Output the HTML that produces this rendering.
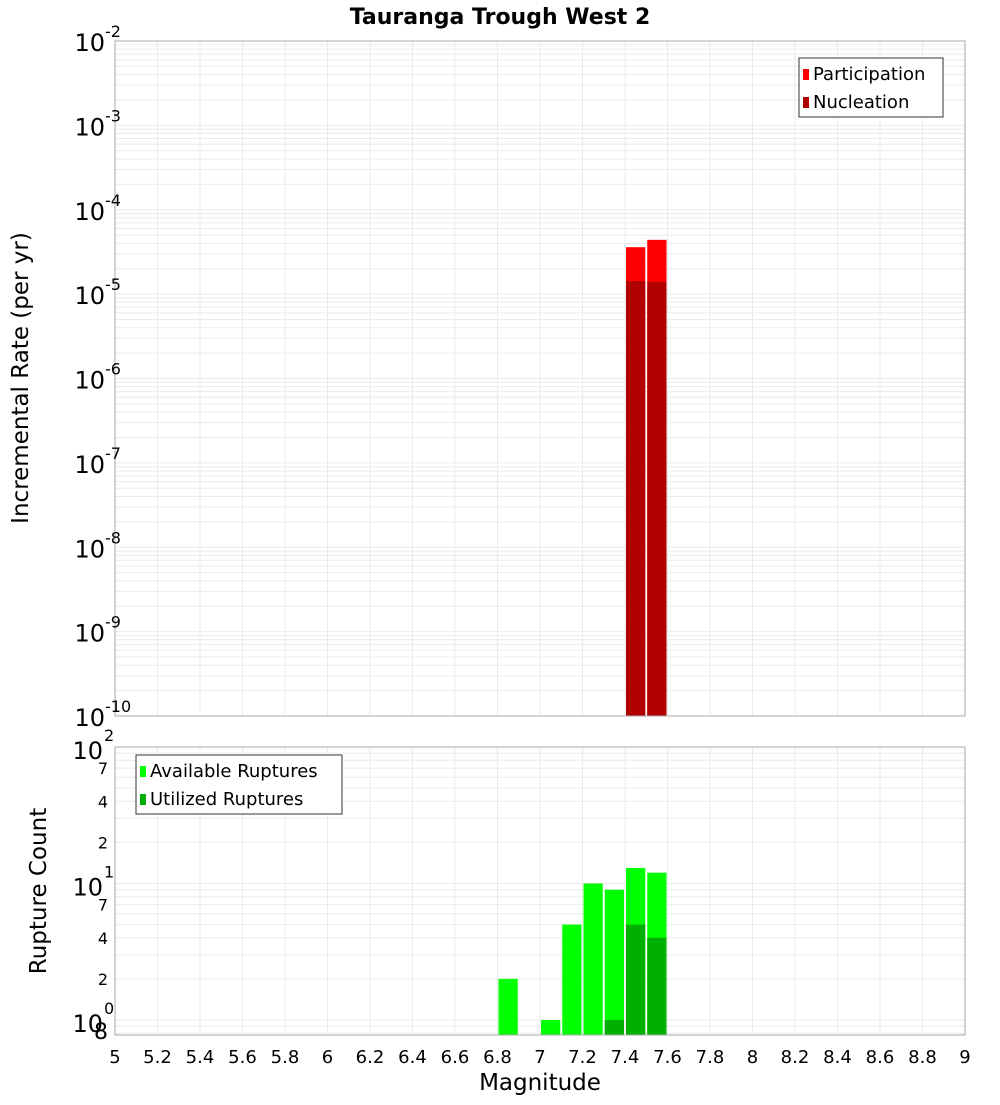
<!DOCTYPE html>
<html><head><meta charset="utf-8"><style>
body{margin:0;background:#fff;}
svg text{font-family:"DejaVu Sans","Liberation Sans",sans-serif;}
</style></head><body>
<svg id="c" width="1000" height="1100" xmlns="http://www.w3.org/2000/svg">
<text x="500" y="24" text-anchor="middle" font-size="22" font-weight="bold">Tauranga Trough West 2</text>
<g id="top"></g>
<g id="bot"></g>
<text transform="translate(28,378) rotate(-90)" text-anchor="middle" font-size="23">Incremental Rate (per yr)</text>
<text transform="translate(46,891) rotate(-90)" text-anchor="middle" font-size="23">Rupture Count</text>
<text x="540" y="1090" text-anchor="middle" font-size="23">Magnitude</text>
</svg>
<script>
const binCenters=[7.45,7.55];
const participation=[3.6e-5,4.4e-5];
const nucleation=[1.43e-5,1.4e-5];
const countCenters=[6.85,7.05,7.15,7.25,7.35,7.45,7.55];
const available=[2,1,5,10,9,13,12];
const utilized=[0,0,0,0,1,5,4];
const xTicks=["5","5.2","5.4","5.6","5.8","6","6.2","6.4","6.6","6.8","7","7.2","7.4","7.6","7.8","8","8.2","8.4","8.6","8.8","9"];
const topExps=[-10,-9,-8,-7,-6,-5,-4,-3,-2];

const NS="http://www.w3.org/2000/svg";
const X0=115,X1=965;
const x=m=>X0+(m-5)/4*(X1-X0);
const T0=41,T1=716;
const yT=v=>T1-(Math.log10(v)+10)/8*(T1-T0);
const B0=747,B1=1035,BMIN=0.776,BMAX=100;
const yB=v=>B1-(Math.log10(v)-Math.log10(BMIN))/(Math.log10(BMAX)-Math.log10(BMIN))*(B1-B0);
function el(p,t,a){const e=document.createElementNS(NS,t);for(const k in a)e.setAttribute(k,a[k]);p.appendChild(e);return e;}
const gTop=document.getElementById('top'),gBot=document.getElementById('bot');

for(let d=-10;d<-2;d++)for(let k=1;k<10;k++){const v=k*Math.pow(10,d);const yy=yT(v);if(yy<T0)continue;
 const l=el(gTop,'line',{x1:X0,x2:X1,y1:yy,y2:yy,stroke:'#ebebeb','stroke-width':1});
 
 }
[1,2,3,4,5,6,7,8,9,10,20,30,40,50,60,70,80,90,100,0.8,0.9].forEach(v=>{const yy=yB(v);
 const l=el(gBot,'line',{x1:X0,x2:X1,y1:yy,y2:yy,stroke:'#ebebeb','stroke-width':1});
 
 });
xTicks.forEach((t,i)=>{const xx=x(+t);
 [[gTop,T0,T1],[gBot,B0,B1]].forEach(([g,a,b])=>{const l=el(g,'line',{x1:xx,x2:xx,y1:a,y2:b,stroke:'#ebebeb','stroke-width':1});
 
 });
 const tx=el(gBot,'text',{x:xx,y:1063,'text-anchor':'middle','font-size':18});tx.textContent=t;
 
 });

const bw=x(5.1)-x(5);
binCenters.forEach((c,i)=>{
 const r=el(gTop,'rect',{x:x(c)-bw/2+1,y:yT(participation[i]),width:bw-2,height:T1-yT(participation[i]),fill:'#ff0000'});
 
 
 const n=el(gTop,'rect',{x:x(c)-bw/2+1,y:yT(nucleation[i]),width:bw-2,height:T1-yT(nucleation[i]),fill:'#b00000'});
 
 });
countCenters.forEach((c,i)=>{
 if(available[i]>0){const r=el(gBot,'rect',{x:x(c)-bw/2+1,y:yB(available[i]),width:bw-2,height:B1-yB(available[i]),fill:'#00ff00'});
 
 }
 if(utilized[i]>0){const n=el(gBot,'rect',{x:x(c)-bw/2+1,y:yB(utilized[i]),width:bw-2,height:B1-yB(utilized[i]),fill:'#00b000'});
 
 }});

[[gTop,T0,T1],[gBot,B0,B1]].forEach(([g,a,b])=>{const f=el(g,'rect',{x:X0,y:a,width:X1-X0,height:b-a,fill:'none',stroke:'#aaa','stroke-width':1});
 
 });

topExps.forEach(e=>{const yy=yT(Math.pow(10,e));
 const t=el(gTop,'text',{x:105,y:yy+10,'text-anchor':'end','font-size':24});
 
 
 t.textContent='10';
 const s=el(gTop,'text',{x:105,y:yy-4,'font-size':16});s.textContent=String(e);
 
 });
[[1,'0'],[10,'1'],[100,'2']].forEach(([v,e])=>{const yy=yB(v);
 const t=el(gBot,'text',{x:103,y:yy+12,'text-anchor':'end','font-size':24});t.textContent='10';
 
 
 const s=el(gBot,'text',{x:104,y:yy-6,'font-size':16});s.textContent=e;
 
 });
[[2,'2'],[4,'4'],[7,'7'],[20,'2'],[40,'4'],[70,'7'],[0.8,'8']].forEach(([v,l])=>{const yy=yB(v);
 const t=el(gBot,'text',{x:108,y:yy+6,'text-anchor':'end','font-size':v==0.8?22:16});t.textContent=l;
 
 });

function legend(g,x0,y0,w,items,name){const b=el(g,'rect',{x:x0,y:y0,width:w,height:59,fill:'#fff',stroke:'#333','stroke-width':1});
 
 
 items.forEach(([lab,col],i)=>{const r=el(g,'rect',{x:x0+4,y:y0+11+i*28,width:6,height:11,fill:col});
 
 
 const t=el(g,'text',{x:x0+14,y:y0+22+i*28,'font-size':18});t.textContent=lab;
 
 });}
legend(gTop,799,58,144,[['Participation','#ff0000'],['Nucleation','#b00000']],'rate-legend');
legend(gBot,136,755,206,[['Available Ruptures','#00ff00'],['Utilized Ruptures','#00b000']],'count-legend');
</script>
</body></html>
